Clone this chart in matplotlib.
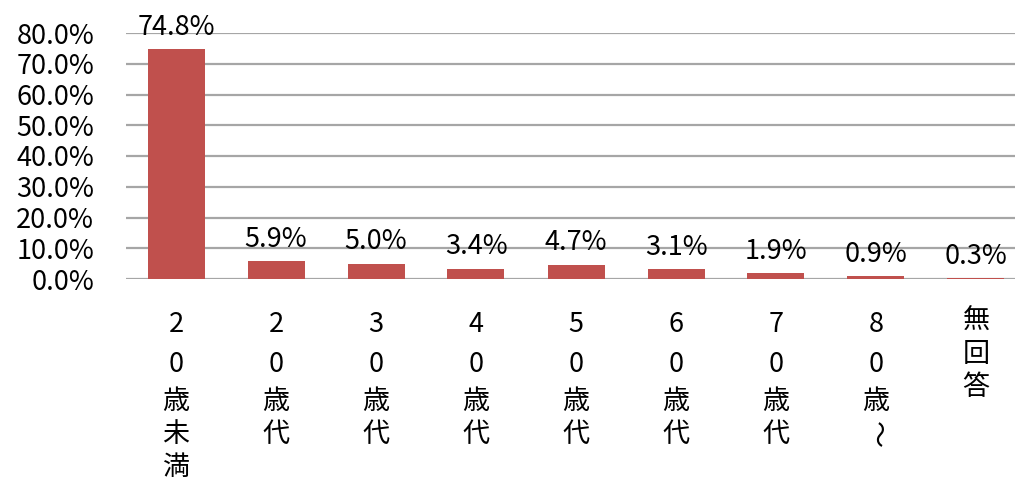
import matplotlib
matplotlib.use("Agg")
import matplotlib.pyplot as plt
from matplotlib.transforms import offset_copy

plt.rcParams["font.family"] = ["Noto Sans CJK JP", "DejaVu Sans"]

categories = ["20歳未満", "20歳代", "30歳代", "40歳代", "50歳代", "60歳代", "70歳代", "80歳～", "無回答"]
values = [74.8, 5.9, 5.0, 3.4, 4.7, 3.1, 1.9, 0.9, 0.3]
yticks = [0, 10, 20, 30, 40, 50, 60, 70, 80]

BAR = "#C0504D"
GRID = "#A6A6A6"
FS = 19.5

fig = plt.figure(figsize=(10.15, 4.83), dpi=100)
ax = fig.add_axes([126 / 1015, 204 / 483, 889 / 1015, 246 / 483])

x = list(range(len(categories)))
ax.bar(x, values, width=0.57, color=BAR, zorder=3)
ax.set_xlim(-0.5, 8.39)
ax.set_ylim(0, 80)

ax.set_yticks(yticks)
ax.set_yticklabels([f"{v:.1f}%" for v in yticks], fontsize=FS)
ax.tick_params(axis="y", length=0, pad=23)
ax.tick_params(axis="x", length=0, labelbottom=False)
ax.grid(axis="y", color=GRID, linewidth=1.6, zorder=0)
for s in ax.spines.values():
    s.set_visible(False)

# value labels
for xi, v in zip(x, values):
    ax.annotate(f"{v:.1f}%", (xi, v), xytext=(0, 6), textcoords="offset points",
                ha="center", va="bottom", fontsize=FS, zorder=4)

# vertical (stacked) category labels
trans = ax.get_xaxis_transform()
for xi, lab in zip(x, categories):
    top = 26  # px below axis
    for ch in lab:
        h = 40 if ch.isdigit() else 33
        t = offset_copy(trans, fig=fig, x=0, y=-(top + h / 2), units="dots")
        rot = -90 if ch in "～〜" else 0
        ax.text(xi, 0, ch, transform=t, ha="center", va="center",
                fontsize=FS, rotation=rot)
        top += h

fig.savefig("out.png", dpi=100)
